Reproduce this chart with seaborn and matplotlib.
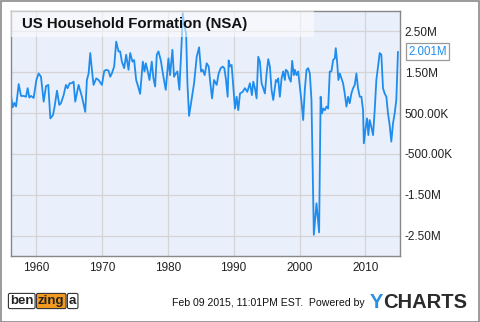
import matplotlib
matplotlib.use("Agg")
import matplotlib.pyplot as plt
from matplotlib.patches import Rectangle
import seaborn as sns
import pandas as pd

# ---- data (household formation, millions) ----
years = [1956.21, 1956.46, 1956.71, 1956.97, 1957.37, 1957.72, 1958.13, 1958.48, 1958.73, 1958.98,
         1959.24, 1959.64, 1960.05, 1960.40, 1960.75, 1961.16, 1961.51, 1961.86, 1962.17, 1962.57,
         1962.82, 1963.18, 1963.53, 1963.78, 1964.19, 1964.54, 1964.79, 1965.10, 1965.40, 1965.70,
         1965.95, 1966.46, 1966.97, 1967.47, 1967.72, 1967.98, 1968.23, 1968.48, 1968.73, 1969.14,
         1969.49, 1969.74, 1970.00, 1970.35, 1970.65, 1971.01, 1971.26, 1971.51, 1971.86, 1972.17,
         1972.52, 1972.77, 1973.03, 1973.38, 1973.68, 1974.04, 1974.29, 1974.64, 1974.89, 1975.20,
         1975.50, 1975.80, 1976.21, 1976.46, 1976.66, 1976.96, 1977.22, 1977.57, 1977.82, 1978.08,
         1978.33, 1978.58, 1978.93, 1979.34, 1979.69, 1980.10, 1980.35, 1980.70, 1980.95, 1981.21,
         1981.46, 1981.76, 1982.12, 1982.27, 1982.52, 1982.78, 1982.98, 1983.23, 1983.63, 1983.99,
         1984.39, 1984.75, 1985.05, 1985.30, 1985.60, 1985.91, 1986.21, 1986.41, 1986.72, 1987.02,
         1987.42, 1987.72, 1988.03, 1988.33, 1988.58, 1988.84, 1989.09, 1989.24, 1989.44, 1989.69,
         1989.95, 1990.20, 1990.45, 1990.70, 1990.96, 1991.36, 1991.71, 1992.07, 1992.47, 1992.77,
         1992.98, 1993.23, 1993.48, 1993.73, 1993.98, 1994.24, 1994.49, 1994.74, 1995.00, 1995.25,
         1995.50, 1995.75, 1996.01, 1996.41, 1996.61, 1996.76, 1997.01, 1997.27, 1997.52, 1997.77,
         1997.92, 1998.18, 1998.43, 1998.68, 1998.88, 1999.13, 1999.29, 1999.54, 1999.79, 2000.05,
         2000.30, 2000.55, 2000.80, 2001.06, 2001.31, 2001.56, 2001.81, 2002.17, 2002.57, 2002.97,
         2003.20, 2003.40, 2003.62, 2003.84, 2004.09, 2004.34, 2004.59, 2004.84, 2005.10, 2005.35,
         2005.50, 2005.70, 2005.90, 2006.11, 2006.36, 2006.61, 2006.86, 2007.12, 2007.37, 2007.62,
         2007.87, 2008.13, 2008.38, 2008.63, 2008.88, 2009.14, 2009.39, 2009.64, 2009.76, 2010.05,
         2010.25, 2010.45, 2010.65, 2010.90, 2011.16, 2011.41, 2011.66, 2011.91, 2012.17, 2012.42,
         2012.67, 2012.92, 2013.18, 2013.43, 2013.68, 2013.93, 2014.19, 2014.44, 2014.69, 2014.94]
households_m = [0.92, 0.64, 0.75, 0.66, 1.21, 0.92, 0.92, 0.90, 1.11, 0.88,
                0.92, 0.87, 1.31, 1.47, 1.39, 0.78, 1.16, 1.19, 0.37, 0.45,
                0.66, 1.05, 0.70, 0.74, 0.94, 1.19, 1.11, 1.23, 1.23, 1.27,
                0.78, 1.19, 0.90, 0.53, 1.31, 1.47, 1.97, 1.56, 1.19, 1.35,
                1.31, 1.25, 1.19, 1.53, 1.56, 1.54, 1.39, 1.47, 1.64, 2.25,
                2.01, 2.01, 1.76, 1.60, 1.93, 1.56, 1.97, 1.76, 1.80, 1.31,
                1.15, 0.97, 1.76, 1.52, 1.72, 1.52, 1.31, 1.76, 1.35, 1.15,
                1.93, 2.01, 1.80, 1.39, 1.07, 1.84, 1.43, 2.05, 1.39, 1.47,
                1.52, 1.07, 2.29, 2.95, 2.62, 2.46, 1.23, 0.43, 0.86, 1.23,
                1.88, 2.11, 1.52, 1.56, 1.43, 1.72, 1.64, 1.31, 0.86, 1.31,
                1.19, 1.47, 1.60, 1.64, 1.60, 1.31, 0.90, 1.79, 1.64, 1.68,
                1.15, 0.61, 0.90, 0.57, 0.98, 1.02, 1.11, 1.02, 1.23, 0.94,
                1.27, 1.11, 0.86, 1.88, 1.76, 1.23, 1.11, 0.98, 1.47, 1.82,
                1.64, 1.07, 0.82, 1.31, 1.27, 1.35, 0.90, 1.35, 1.52, 1.31,
                1.56, 1.52, 1.35, 1.27, 1.78, 1.43, 1.56, 1.43, 1.52, 1.15,
                0.78, 0.33, 1.07, 1.56, 1.60, 1.47, 0.82, -2.48, -1.71, -2.42,
                0.90, 0.49, 0.61, 0.57, 0.66, 0.61, 1.52, 1.52, 1.80, 1.84,
                2.09, 1.76, 1.31, 1.47, 1.35, 1.23, 0.98, 0.66, 0.90, 0.74,
                0.98, 1.11, 1.19, 1.47, 1.11, 0.90, 0.90, 0.57, -0.24, 0.16,
                0.37, -0.04, 0.33, 0.16, -0.04, 0.57, 1.31, 1.64, 1.97, 1.93,
                1.11, 0.98, 0.90, 0.49, 0.21, -0.20, 0.25, 0.49, 0.82, 2.001]

ytick_vals = [2.5, 1.5, 0.5, -0.5, -1.5, -2.5]
ytick_labels = ["2.50M", "1.50M", "500.00K", "-500.00K", "-1.50M", "-2.50M"]
xtick_vals = [1960, 1970, 1980, 1990, 2000, 2010]
xtick_labels = ["1960", "1970", "1980", "1990", "2000", "2010"]
title = "US Household Formation (NSA)"
last_label = "2.001M"

df = pd.DataFrame({"year": years, "households": households_m})

sns.set_theme(style="whitegrid")
plt.rcParams["font.family"] = ["Liberation Sans", "DejaVu Sans"]

W, H = 480, 322
fig = plt.figure(figsize=(W / 100, H / 100), dpi=100)
fig.patch.set_facecolor("white")
ax = fig.add_axes([11 / W, 1 - 256 / H, 389 / W, 245 / H])
ax.set_facecolor("#e9effb")

line_color = "#1f8ded"
sns.lineplot(data=df, x="year", y="households", ax=ax, color=line_color,
             linewidth=1.3, estimator=None, sort=True)

ax.set_xlim(1956.2, 2015.25)
ax.set_ylim(-3.0, 3.0)
ax.set_xticks(xtick_vals)
ax.set_xticklabels(xtick_labels)
ax.set_yticks(ytick_vals)
ax.set_yticklabels(ytick_labels)
ax.yaxis.tick_right()
ax.set_xlabel("")
ax.set_ylabel("")
ax.grid(True, color="#d4d4d4", linewidth=0.9)
ax.tick_params(axis="both", length=0, labelsize=8.5, colors="#222222")
ax.tick_params(axis="y", pad=3.5)
ax.tick_params(axis="x", pad=4.5)
for s in ax.spines.values():
    s.set_visible(True)
    s.set_color("#888888")
    s.set_linewidth(1.0)

# title band
ax.add_patch(Rectangle((0, 0.894), 0.779, 0.106, transform=ax.transAxes,
                       facecolor="white", alpha=0.55, edgecolor="none", zorder=3))
ax.text(0.028, 0.946, title, transform=ax.transAxes, fontsize=10.8,
        fontweight="bold", color="#111111", va="center", ha="left", zorder=4)

# last value label
ax.annotate(last_label, xy=(1.0, households_m[-1]), xycoords=("axes fraction", "data"),
            xytext=(6, 0), textcoords="offset points", va="center", ha="left",
            fontsize=8.3, color=line_color,
            bbox=dict(boxstyle="square,pad=0.2", facecolor="white", edgecolor="#999999",
                      linewidth=0.9),
            annotation_clip=False, zorder=5)

# footer: benzinga logo as text
logo_y = 1 - 301 / H
fig.text(10 / W, logo_y, "ben", fontsize=9.5, fontweight="bold", color="#222222",
         va="center", ha="left",
         bbox=dict(boxstyle="round,pad=0.12", facecolor="white", edgecolor="#333333", linewidth=0.8))
fig.text(38 / W, logo_y, "zing", fontsize=9.5, fontweight="bold", color="#222222",
         va="center", ha="left",
         bbox=dict(boxstyle="round,pad=0.12", facecolor="#f29a1f", edgecolor="#333333", linewidth=0.8))
fig.text(69 / W, logo_y, "a", fontsize=9.5, fontweight="bold", color="#222222",
         va="center", ha="left",
         bbox=dict(boxstyle="round,pad=0.12", facecolor="white", edgecolor="#333333", linewidth=0.8))
fig.text(365 / W, 1 - 303 / H, "Feb 09 2015, 11:01PM EST.  Powered by", fontsize=7.6,
         color="#111111", va="center", ha="right")
fig.text(370 / W, 1 - 302 / H, "Y", fontsize=14.5, fontweight="bold", color="#2a8fe0",
         va="center", ha="left")
fig.text(383 / W, 1 - 302 / H, "CHARTS", fontsize=14.5, fontweight="bold", color="#2b2b2b",
         va="center", ha="left")

# outer frame
fig.patches.append(Rectangle((0.5 / W, 0.5 / H), 1 - 1.5 / W, 1 - 1.5 / H,
                             transform=fig.transFigure, fill=False,
                             edgecolor="#8a8a8a", linewidth=1.2))

fig.savefig("out.png", dpi=100)
